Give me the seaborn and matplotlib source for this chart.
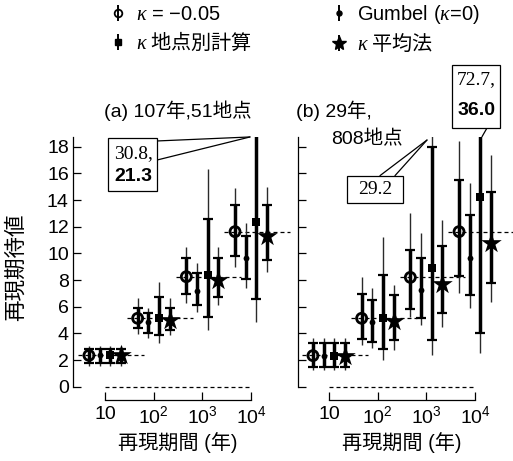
import numpy as np
import pandas as pd
import matplotlib
matplotlib.use("Agg")
import matplotlib.pyplot as plt
import matplotlib.transforms as mtransforms
from matplotlib.lines import Line2D
from matplotlib.patches import Rectangle
from matplotlib.ticker import NullLocator
import seaborn as sns

sns.set_theme(style="ticks", rc={
    "text.color": "black", "axes.edgecolor": "black", "axes.labelcolor": "black",
    "xtick.color": "black", "ytick.color": "black", "axes.linewidth": 0.9,
})
plt.rcParams['font.family'] = ['Liberation Sans', 'Noto Sans CJK JP']
plt.rcParams['mathtext.fontset'] = 'custom'
plt.rcParams['mathtext.rm'] = 'Liberation Sans'
plt.rcParams['mathtext.it'] = 'Liberation Serif:italic'
plt.rcParams['axes.unicode_minus'] = True

# ---------------- data ----------------
periods = [10, 100, 1000, 10000]
period_labels = ["10", r"$\mathregular{10^2}$", r"$\mathregular{10^3}$", r"$\mathregular{10^4}$"]
expected = [2.35, 5.12, 8.22, 11.63]
yticks = [0, 2, 4, 6, 8, 10, 12, 14, 16, 18]

methods = ["circle", "dot", "square", "star"]
legend_labels = {
    "circle": r"$\kappa$ = −0.05",
    "dot": r"Gumbel ($\kappa$=0)",
    "square": r"$\kappa$ 地点別計算",
    "star": r"$\kappa$ 平均法",
}

# panel (a): 107 years, 51 sites
a_circle_mid = [2.35, 5.13, 8.25, 11.63]
a_circle_lo = [1.75, 4.40, 6.93, 9.80]
a_circle_hi = [2.85, 5.93, 9.63, 13.63]
a_circle_lo2 = [1.55, 3.95, 6.25, 9.00]
a_circle_hi2 = [3.05, 6.63, 10.50, 14.90]

a_dot_mid = [2.35, 4.88, 7.20, 9.63]
a_dot_lo = [1.75, 4.05, 6.13, 8.08]
a_dot_hi = [2.85, 5.55, 8.50, 11.30]
a_dot_lo2 = [1.55, 3.63, 5.63, 7.38]
a_dot_hi2 = [3.05, 5.90, 9.25, 12.25]

a_square_mid = [2.35, 5.13, 8.38, 12.38]
a_square_lo = [1.75, 3.88, 5.25, 6.55]
a_square_hi = [2.85, 6.75, 12.55, 21.3]
a_square_lo2 = [1.55, 3.25, 4.25, 4.88]
a_square_hi2 = [3.05, 7.88, 16.30, 30.8]

a_star_mid = [2.35, 5.00, 8.00, 11.30]
a_star_lo = [1.75, 4.25, 6.75, 9.50]
a_star_hi = [2.85, 5.88, 9.63, 13.60]
a_star_lo2 = [1.55, 3.88, 6.13, 8.63]
a_star_hi2 = [3.05, 6.63, 10.50, 15.00]

# panel (b): 29 years, 808 sites
b_circle_mid = [2.33, 5.13, 8.20, 11.63]
b_circle_lo = [1.45, 3.58, 5.83, 8.33]
b_circle_hi = [3.25, 6.93, 10.25, 15.50]
b_circle_lo2 = [1.25, 3.13, 5.25, 7.00]
b_circle_hi2 = [3.63, 8.25, 13.00, 18.40]

b_dot_mid = [2.33, 4.83, 7.25, 9.68]
b_dot_lo = [1.45, 3.38, 5.13, 6.88]
b_dot_hi = [3.25, 6.50, 9.68, 12.88]
b_dot_lo2 = [1.25, 2.88, 4.63, 5.88]
b_dot_hi2 = [3.63, 7.38, 11.50, 15.25]

b_square_mid = [2.33, 5.18, 8.93, 14.20]
b_square_lo = [1.45, 2.83, 3.50, 4.00]
b_square_hi = [3.25, 8.38, 18.00, 36.0]
b_square_lo2 = [1.25, 2.00, 2.38, 2.55]
b_square_hi2 = [3.63, 11.25, 29.2, 72.7]

b_star_mid = [2.33, 4.95, 7.70, 10.75]
b_star_lo = [1.45, 3.50, 5.55, 7.75]
b_star_hi = [3.25, 6.88, 10.58, 14.58]
b_star_lo2 = [1.25, 2.75, 4.50, 6.38]
b_star_hi2 = [3.63, 7.63, 12.50, 17.40]

panel_a = {
    "circle": (a_circle_mid, a_circle_lo, a_circle_hi, a_circle_lo2, a_circle_hi2),
    "dot": (a_dot_mid, a_dot_lo, a_dot_hi, a_dot_lo2, a_dot_hi2),
    "square": (a_square_mid, a_square_lo, a_square_hi, a_square_lo2, a_square_hi2),
    "star": (a_star_mid, a_star_lo, a_star_hi, a_star_lo2, a_star_hi2),
}
panel_b = {
    "circle": (b_circle_mid, b_circle_lo, b_circle_hi, b_circle_lo2, b_circle_hi2),
    "dot": (b_dot_mid, b_dot_lo, b_dot_hi, b_dot_lo2, b_dot_hi2),
    "square": (b_square_mid, b_square_lo, b_square_hi, b_square_lo2, b_square_hi2),
    "star": (b_star_mid, b_star_lo, b_star_hi, b_star_lo2, b_star_hi2),
}

# ---------------- style ----------------
offsets = {"circle": -0.33, "dot": -0.11, "square": 0.11, "star": 0.33}  # decades
mstyle = {
    "circle": dict(marker="o", s=7.2 ** 2, facecolor="none", edgecolor="black", linewidth=2.0),
    "dot": dict(marker="o", s=4.2 ** 2, color="black", linewidth=0),
    "square": dict(marker="s", s=6.2 ** 2, color="black", linewidth=0),
    "star": dict(marker="*", s=15.5 ** 2, color="black", linewidth=0),
}
THICK = 2.5
THIN = 1.0
CAP = 3.8
DASH = (0, (3.2, 2.4))

W, H = 513, 461
fig = plt.figure(figsize=(W / 100, H / 100), dpi=100)

px_per_dec = 48.7
y0_px, ytop_px = 386.7, 136.7
ymax = 18.75


def make_axes(left_px, right_px, tick10_px):
    ax = fig.add_axes([left_px / W, 1 - y0_px / H, (right_px - left_px) / W, (y0_px - ytop_px) / H])
    lo = 1 + (left_px - tick10_px) / px_per_dec
    hi = 1 + (right_px - tick10_px) / px_per_dec
    ax.set_xscale("log")
    ax.set_xlim(10 ** lo, 10 ** hi)
    ax.set_ylim(0, ymax)
    return ax, lo, hi


ax_a, lo_a, hi_a = make_axes(73, 296, 105)
ax_b, lo_b, hi_b = make_axes(298, 513, 329)

for ax, pdata in ((ax_a, panel_a), (ax_b, panel_b)):
    T = np.array(periods, dtype=float)
    ax.hlines(expected, T * 10 ** -0.55, T * 10 ** 0.8, colors="black",
              linewidth=0.9, linestyles=[DASH], zorder=1)
    ax.hlines([0], periods[0], periods[-1], colors="black", linewidth=0.9,
              linestyles=[DASH], zorder=1, clip_on=False)
    for m in methods:
        mid, lo, hi, lo2, hi2 = [np.array(v, dtype=float) for v in pdata[m]]
        x = T * 10 ** offsets[m]
        ax.vlines(x, lo2, hi2, colors="#2a2a2a", linewidth=THIN, zorder=2)
        ax.errorbar(x, mid, yerr=[mid - lo, hi - mid], fmt="none", ecolor="black",
                    elinewidth=THICK, capsize=CAP, capthick=1.6, zorder=3)
        df = pd.DataFrame({"x": x, "y": mid})
        sns.scatterplot(data=df, x="x", y="y", ax=ax, zorder=4, legend=False, **mstyle[m])

    ax.xaxis.set_minor_locator(NullLocator())
    ax.set_xticks(periods)
    ax.set_xticklabels(period_labels)
    ax.set_yticks(yticks)
    ax.spines["top"].set_visible(False)
    ax.spines["right"].set_visible(False)
    ax.spines["bottom"].set_position(("outward", 9.6))
    ax.spines["bottom"].set_bounds(periods[0], periods[-1])
    ax.spines["left"].set_bounds(0, ymax)
    ax.tick_params(axis="x", direction="in", length=5.8, width=0.9, pad=4, labelsize=14)
    ax.tick_params(axis="y", direction="in", length=6, width=0.9, pad=3, labelsize=14)
    ax.set_xlabel("再現期間 (年)", fontsize=14.5)
    ax.xaxis.label.set_va("center")
    ax.set_ylabel("")

ax_b.tick_params(axis="y", labelleft=False)
ax_a.set_ylabel("再現期待値", fontsize=15.5)
ax_a.yaxis.label.set_va("center")
ax_a.yaxis.set_label_coords(-0.2525, 0.477)
ax_a.xaxis.set_label_coords((2.5 - lo_a) / (hi_a - lo_a), -0.225)
ax_b.xaxis.set_label_coords((2.5 - lo_b) / (hi_b - lo_b), -0.225)

# titles
ta = mtransforms.blended_transform_factory(ax_a.transData, ax_a.transAxes)
ax_a.text(10 ** 2.5, 1.103, "(a) 107年,51地点", transform=ta, ha="center", va="center",
          fontsize=14)
tb = mtransforms.blended_transform_factory(ax_b.transData, ax_b.transAxes)
ax_b.text(10 ** 0.33, 1.103, "(b) 29年,", transform=tb, ha="left", va="center",
          fontsize=14, clip_on=False)
ax_b.text(10 ** 1.04, 0.991, "808地点", transform=tb, ha="left", va="center",
          fontsize=14, clip_on=False)

# callouts
serif = dict(family="Liberation Serif", fontsize=14)
boldsans = dict(family="Liberation Sans", fontsize=14, weight="bold")

def box(ax, x0, x1, y0, y1):
    ax.add_patch(Rectangle((10 ** x0, y0), 10 ** x1 - 10 ** x0, y1 - y0, fill=True,
                           facecolor="white", edgecolor="black", linewidth=0.9,
                           clip_on=False, zorder=6))

def leader(ax, pts, tip):
    for (lx, ly) in pts:
        ax.plot([10 ** lx, 10 ** tip[0]], [ly, tip[1]], color="black", lw=0.9,
                clip_on=False, zorder=6)

# panel a: 30.8, 21.3
leader(ax_a, [(2.068, 18.43), (2.068, 17.0)], (3.977, 18.73))
box(ax_a, 1.062, 2.068, 14.68, 18.65)
ax_a.text(10 ** 1.19, 17.45, f"{a_square_hi2[3]:.1f},", ha="left", va="center", zorder=7, **serif)
ax_a.text(10 ** 1.19, 15.8, f"{a_square_hi[3]:.1f}", ha="left", va="center", zorder=7, **boldsans)

# panel b: 29.2
leader(ax_b, [(2.047, 15.83), (2.355, 15.83)], (3.012, 18.5))
box(ax_b, 1.363, 2.525, 13.8, 15.83)
ax_b.text(10 ** 1.945, 14.8, f"{b_square_hi2[2]:.1f}", ha="center", va="center", zorder=7, **serif)

# panel b: 72.7, 36.0
leader(ax_b, [(4.244, 19.4)], (4.142, 18.75))
box(ax_b, 3.526, 4.511, 19.4, 24.13)
ax_b.text(10 ** 3.62, 23.0, f"{b_square_hi2[3]:.1f},", ha="left", va="center", zorder=7,
          clip_on=False, **serif)
ax_b.text(10 ** 3.64, 20.75, f"{b_square_hi[3]:.1f}", ha="left", va="center", zorder=7,
          clip_on=False, **boldsans)

# legend
def key(m):
    bar = Line2D([], [], ls="", marker="|", markersize=11, markeredgewidth=1.4, color="black")
    if m == "circle":
        mk = Line2D([], [], ls="", marker="o", markersize=5.5, mfc="none", mec="black", mew=1.3)
    elif m == "dot":
        mk = Line2D([], [], ls="", marker="o", markersize=3.6, color="black")
    elif m == "square":
        mk = Line2D([], [], ls="", marker="s", markersize=4.8, color="black")
    else:
        mk = Line2D([], [], ls="", marker="*", markersize=10, color="black")
    return (bar, mk)

order = ["circle", "square", "dot", "star"]
leg = fig.legend([key(m) for m in order], [legend_labels[m] for m in order], ncol=2,
                 loc="upper left", bbox_to_anchor=(110 / W, 1 - 3 / H), frameon=False,
                 fontsize=14.5, handlelength=0.8, handletextpad=0.5, columnspacing=3.9,
                 labelspacing=0.35, borderaxespad=0, borderpad=0)
for t in leg.get_texts():
    if any(ord(c) > 0x3000 for c in t.get_text()):
        t.set_fontfamily("Noto Sans CJK JP")
    else:
        t.set_fontfamily("Liberation Sans")

fig.savefig("out.png", dpi=100)
